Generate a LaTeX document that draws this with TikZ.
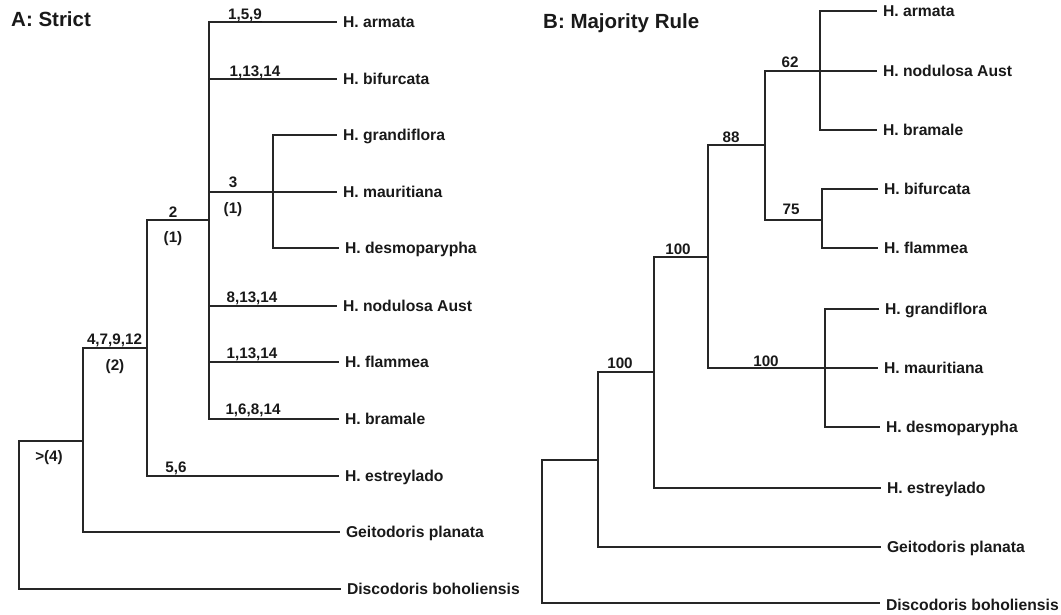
\documentclass[tikz,border=0pt]{standalone}
\usepackage{fontspec}
\setmainfont{Liberation Sans}
\begin{document}
\begin{tikzpicture}[x=1pt,y=-1pt,
  br/.style={line width=1.4pt, draw=black!85},
  leaf/.style={anchor=west, inner sep=0pt, outer xsep=6pt, outer ysep=0pt,
    text height=11.2pt, text depth=0pt, font=\bfseries\fontsize{15.7}{18}\selectfont, text=black!90},
  lab/.style={inner sep=0pt, text height=10.9pt, text depth=0pt,
    font=\bfseries\fontsize{15.2}{17}\selectfont, text=black!90},
  ttl/.style={anchor=base west, inner sep=0pt, font=\bfseries\fontsize{20.5}{24}\selectfont, text=black!90}]
\useasboundingbox (0,0) rectangle (1061,615);

% ---------------- A: Strict ----------------
\node[ttl] (tA) at (11,26.5) {A: Strict};

\coordinate (aR) at (19,515);
\coordinate (aA) at (83,441);
\coordinate (aB) at (147,348);
\coordinate (aC) at (209,220);
\coordinate (aD) at (273,192);

\node[leaf] (aArm) at (337,22)  {H. armata};
\node[leaf] (aBif) at (337,79)  {H. bifurcata};
\node[leaf] (aGra) at (337,135) {H. grandiflora};
\node[leaf] (aMau) at (337,192) {H. mauritiana};
\node[leaf] (aDes) at (339,248) {H. desmoparypha};
\node[leaf] (aNod) at (337,306) {H. nodulosa Aust};
\node[leaf] (aFla) at (339,362) {H. flammea};
\node[leaf] (aBra) at (339,419) {H. bramale};
\node[leaf] (aEst) at (339,476) {H. estreylado};
\node[leaf] (aGei) at (340,532) {Geitodoris planata};
\node[leaf] (aDis) at (341,589) {Discodoris boholiensis};

\draw[br] (aR) |- (aA);
\draw[br] (aR) |- (aDis.west);
\draw[br] (aA) |- (aB);
\draw[br] (aA) |- (aGei.west);
\draw[br] (aB) |- (aC);
\draw[br] (aB) |- (aEst.west);
\draw[br] (aC) |- (aArm.west);
\draw[br] (aC) |- (aBif.west);
\draw[br] (aC) |- (aD);
\draw[br] (aC) |- (aNod.west);
\draw[br] (aC) |- (aFla.west);
\draw[br] (aC) |- (aBra.west);
\draw[br] (aD) |- (aGra.west);
\draw[br] (aD) -- (aMau.west);
\draw[br] (aD) |- (aDes.west);

\node[lab] (l159)  at (245,14.5)  {1,5,\underline{9}};
\node[lab] (l11314a) at (255,71) {1,13,14};
\node[lab] (l3)    at (233,182) {3};
\node[lab] (l3p)   at (233,208) {(1)};
\node[lab] (l2)    at (173,212) {2};
\node[lab] (l2p)   at (173,237) {(1)};
\node[lab] (l81314) at (252,297) {8,13,14};
\node[lab] (l11314b) at (252,353) {1,13,14};
\node[lab] (l16814) at (253,409) {1,6,8,14};
\node[lab] (l56)   at (176,467) {5,6};
\node[lab] (l47912) at (114.5,339) {4,7,9,12};
\node[lab] (l2q)   at (115,365) {(2)};
\node[lab] (l4)    at (49,456)  {>(4)};

% ---------------- B: Majority Rule ----------------
\node[ttl] (tB) at (543,28.5) {B: Majority Rule};

\coordinate (bR) at (542,530);
\coordinate (bE) at (598,460);
\coordinate (bF) at (654,372);
\coordinate (bG) at (708,257);
\coordinate (bH) at (765,145);
\coordinate (bI) at (825,368);
\coordinate (bJ) at (820,71);
\coordinate (bK) at (822,220);

\node[leaf] (bArm) at (877,11)  {H. armata};
\node[leaf] (bNod) at (877,71)  {H. nodulosa Aust};
\node[leaf] (bBra) at (877,130) {H. bramale};
\node[leaf] (bBif) at (878,189) {H. bifurcata};
\node[leaf] (bFla) at (878,248) {H. flammea};
\node[leaf] (bGra) at (879,309) {H. grandiflora};
\node[leaf] (bMau) at (878,368) {H. mauritiana};
\node[leaf] (bDes) at (880,427) {H. desmoparypha};
\node[leaf] (bEst) at (881,488) {H. estreylado};
\node[leaf] (bGei) at (881,547) {Geitodoris planata};
\node[leaf] (bDis) at (880,605) {Discodoris boholiensis};

\draw[br] (bR) |- (bE);
\draw[br] (bR) |- ([yshift=2pt]bDis.west);
\draw[br] (bE) |- (bF);
\draw[br] (bE) |- (bGei.west);
\draw[br] (bF) |- (bG);
\draw[br] (bF) |- (bEst.west);
\draw[br] (bG) |- (bH);
\draw[br] (bG) |- (bI);
\draw[br] (bH) |- (bJ);
\draw[br] (bH) |- (bK);
\draw[br] (bJ) |- (bArm.west);
\draw[br] (bJ) -- (bNod.west);
\draw[br] (bJ) |- (bBra.west);
\draw[br] (bK) |- (bBif.west);
\draw[br] (bK) |- (bFla.west);
\draw[br] (bI) |- (bGra.west);
\draw[br] (bI) -- (bMau.west);
\draw[br] (bI) |- (bDes.west);

\node[lab] (b62)  at (790,62)  {62};
\node[lab] (b88)  at (731,137) {88};
\node[lab] (b75)  at (791,209) {75};
\node[lab] (b100a) at (678,249) {100};
\node[lab] (b100b) at (766,361) {100};
\node[lab] (b100c) at (620,363) {100};
\end{tikzpicture}
\end{document}
